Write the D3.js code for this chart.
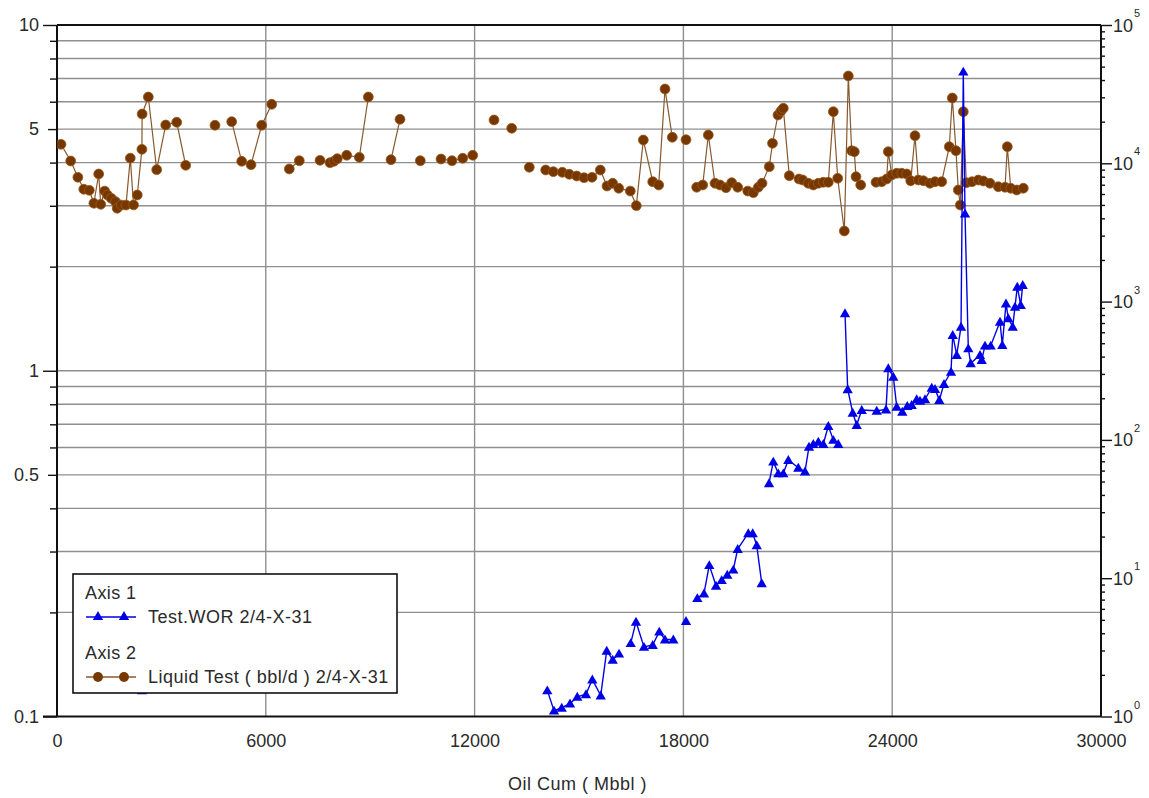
<!DOCTYPE html>
<html>
<head>
<meta charset="utf-8">
<script src="https://cdn.jsdelivr.net/npm/d3@7/dist/d3.min.js"></script>
<style>
  html, body { margin: 0; padding: 0; background: #ffffff; }
  svg { display: block; }
  text { font-family: "Liberation Sans", Arial, sans-serif; fill: #2a2a2a; }
</style>
</head>
<body>
<svg id="chart" width="1149" height="798"></svg>
<script>
// ---- Axis 1: Test.WOR (left log axis). null marks a break in the line.
const worCum = [2443, null,
  14089, 14282, 14503, 14742, 14951, 15201, 15383, 15624, 15796, 15968, 16150, null,
  16486, 16638, 16868, 17118, 17307, 17471, 17710, null,
  18075, null,
  18400, 18592, 18744, 18937, 19100, 19261, 19434, 19560, 19865, 19991, 20107, 20250, null,
  20460, 20583, 20727, 20871, 21015, 21302, 21494, 21609, 21733, 21877, 22020, 22164, 22308, 22451, null,
  22644, 22721, 22865, 22980, 23124, 23555, 23822, 23888, 24032, 24130, 24290, 24434, 24560, 24704,
  24799, 24943, 25135, 25230, 25354, 25489, 25690, 25739, 25854, 25978, 26043, 26092, 26187, 26256,
  26523, 26572, 26667, 26830, 27098, 27164, 27270, 27336, 27463, 27529, 27595, 27693, 27750];
const worValue = [0.119, null,
  0.119, 0.104, 0.106, 0.109, 0.114, 0.116, 0.128, 0.115, 0.155, 0.146, 0.152, null,
  0.163, 0.188, 0.159, 0.161, 0.176, 0.167, 0.167, null,
  0.189, null,
  0.220, 0.227, 0.274, 0.239, 0.248, 0.257, 0.266, 0.305, 0.339, 0.339, 0.313, 0.243, null,
  0.473, 0.546, 0.505, 0.505, 0.552, 0.524, 0.511, 0.603, 0.614, 0.623, 0.614, 0.692, 0.631, 0.614, null,
  1.466, 0.884, 0.756, 0.697, 0.770, 0.766, 0.773, 1.017, 0.961, 0.787, 0.761, 0.791, 0.796, 0.827,
  0.819, 0.827, 0.893, 0.886, 0.823, 0.916, 0.994, 1.269, 1.111, 1.341, 7.33, 2.85, 1.161, 1.051,
  1.111, 1.074, 1.182, 1.182, 1.386, 1.187, 1.566, 1.418, 1.341, 1.532, 1.750, 1.549, 1.770];

// ---- Axis 2: Liquid Test (bbl/d) (right log axis). null marks a break in the line.
const liqCum = [115, 394, 600, 770, 928, 1060, 1198, 1256, 1370, 1450, 1560, 1680, 1730, 1850, 1983,
  2106, 2200, 2307, 2440, 2446, 2624, 2865, 3124, 3440, 3698, null,
  4540, null,
  5020, 5307, 5575, 5882, 6170, null,
  6675, 6963, null,
  7558, 7845, 7960, 8055, 8325, 8687, 8946, null,
  9598, 9856, null,
  10440, null,
  11035, 11351, 11658, 11946, null,
  12558, null,
  13066, null,
  13572, null,
  14043, 14262, 14520, 14721, 14934, 15144, 15374, 15612, 15805, 15968, 16141, 16474, 16647, 16848,
  17118, 17290, 17471, 17681, null,
  18075, null,
  18382, 18555, 18716, 18908, 19052, 19224, 19388, 19560, 19848, 20009, 20152, 20259, 20468, 20560,
  20718, 20805, 20871, 21043, 21322, 21428, 21589, 21733, 21877, 22020, 22164, 22308, 22434, 22624,
  22739, 22836, 22911, 22960, 23095, null,
  23535, 23698, 23842, 23888, 23986, 24130, 24273, 24417, 24532, 24655, 24750, 24894, 25086, 25230,
  25422, 25641, 25727, 25833, 25899, 25957, 26043, 26130, 26293, 26475, 26619, 26810, 27049, 27242,
  27308, 27406, 27578, 27768];
const liqValue = [13720, 10390, 7920, 6490, 6380, 5140, 8370, 5050, 6300, 5900, 5580, 5280, 4730, 4990, 4990,
  10900, 5000, 5900, 12620, 22730, 30160, 8990, 18920, 19800, 9670, null,
  18830, null,
  19990, 10340, 9770, 18830, 26710, null,
  9100, 10440, null,
  10510, 10100, 10340, 10800, 11430, 11050, 30160, null,
  10620, 20810, null,
  10440, null,
  10740, 10440, 10870, 11430, null,
  20570, null,
  17910, null,
  9360, null,
  8945, 8700, 8610, 8330, 8090, 7870, 7920, 8945, 6850, 7170, 6600, 6300, 4940, 14740,
  7360, 6970, 34450, 15420, null,
  14810, null,
  6710, 6970, 16020, 7170, 6970, 6660, 7240, 6710, 6300, 6130, 6710, 7170, 9450, 13950,
  22350, 23890, 24990, 8130, 7700, 7570, 7170, 6970, 7170, 7290, 7290, 23610, 7790, 3240,
  42790, 12330, 12130, 8000, 6970, null,
  7290, 7360, 7700, 12130, 8230, 8470, 8470, 8370, 7480, 15830, 7570, 7480, 7170, 7360,
  7360, 13180, 29660, 12330, 6410, 4990, 23610, 7240, 7360, 7570, 7450, 7170, 6770, 6710,
  13180, 6600, 6410, 6600];

// ---- Tick labels
const xTicks = [0, 6000, 12000, 18000, 24000, 30000];
const leftTickLabels = [10, 5, 1, 0.5, 0.1];
const rightExponents = [0, 1, 2, 3, 4, 5];
const xTitle = "Oil Cum ( Mbbl )";
const legendItems = [
  { group: "Axis 1", name: "Test.WOR 2/4-X-31", kind: "wor" },
  { group: "Axis 2", name: "Liquid Test ( bbl/d ) 2/4-X-31", kind: "liq" }
];

const WOR_COLOR = "#0000e6";
const LIQ_COLOR = "#763800";
const LIQ_LINE = "#86582e";
const GRID = "#8f8f8f";

const svg = d3.select("#chart");
const plot = { left: 57, right: 1101, top: 25, bottom: 716.5 };

const x = d3.scaleLinear().domain([0, 30000]).range([plot.left, plot.right]);
const yL = d3.scaleLog().domain([0.1, 10]).range([plot.bottom, plot.top]);
const yR = d3.scaleLog().domain([1, 1e5]).range([plot.bottom, plot.top]);

// minor log positions on the left axis
const leftMinor = [];
[0.1, 1].forEach(d => { for (let k = 1; k <= 9; k++) leftMinor.push(+(d * k).toFixed(3)); });
leftMinor.push(10);

// ---- Grid
const grid = svg.append("g");
grid.selectAll("line.h").data(leftMinor.filter(v => v > 0.1 && v < 10)).join("line")
  .attr("x1", plot.left).attr("x2", plot.right)
  .attr("y1", d => yL(d)).attr("y2", d => yL(d))
  .attr("stroke", GRID).attr("stroke-width", 1.4);
grid.selectAll("line.v").data(xTicks.filter(v => v > 0 && v < 30000)).join("line")
  .attr("x1", d => x(d)).attr("x2", d => x(d))
  .attr("y1", plot.top).attr("y2", plot.bottom)
  .attr("stroke", GRID).attr("stroke-width", 1.4);

// ---- Left axis (Axis 1)
const leftAxis = d3.axisLeft(yL)
  .tickValues(leftMinor)
  .tickSize(0)
  .tickFormat(d => leftTickLabels.includes(d) ? String(d) : "");
const gL = svg.append("g").attr("transform", `translate(${plot.left},0)`).call(leftAxis);
gL.select(".domain").remove();
gL.selectAll(".tick line").remove();
gL.selectAll(".tick text").attr("x", -18).attr("font-size", 18).attr("fill", "#2a2a2a")
  .style("font-family", "'Liberation Sans', Arial, sans-serif");
gL.selectAll(".tick").append("line")
  .attr("x1", d => ([0.1, 1, 10].includes(d) ? -14 : (d === 5 || d === 0.5) ? -9 : -7))
  .attr("x2", 0).attr("stroke", "#111").attr("stroke-width", 1.4);

// ---- Right axis (Axis 2)
const rightMinor = [];
for (let e = 0; e < 5; e++) for (let k = 1; k <= 9; k++) rightMinor.push(k * Math.pow(10, e));
rightMinor.push(1e5);
const rightAxis = d3.axisRight(yR).tickValues(rightMinor).tickSize(0).tickFormat("");
const gR = svg.append("g").attr("transform", `translate(${plot.right},0)`).call(rightAxis);
gR.select(".domain").remove();
gR.selectAll(".tick line").remove();
gR.selectAll(".tick").append("line")
  .attr("x1", 0)
  .attr("x2", d => (Math.abs(Math.log10(d) - Math.round(Math.log10(d))) < 1e-9 ? 11 : 4))
  .attr("stroke", "#111").attr("stroke-width", 1.4);
const rLab = svg.append("g").selectAll("g").data(rightExponents).join("g")
  .attr("transform", d => `translate(${plot.right + 12},${yR(Math.pow(10, d))})`);
rLab.append("text").attr("y", 6.5).attr("font-size", 18).text("10");
rLab.append("text").attr("x", 21).attr("y", -8).attr("font-size", 11).text(d => d);

// ---- Bottom axis
const bottomAxis = d3.axisBottom(x).tickValues(xTicks).tickSize(0).tickFormat(d => String(d));
const gB = svg.append("g").attr("transform", `translate(0,${plot.bottom})`).call(bottomAxis);
gB.select(".domain").remove();
gB.selectAll(".tick text").attr("y", 18).attr("font-size", 18).attr("fill", "#2a2a2a")
  .style("font-family", "'Liberation Sans', Arial, sans-serif");

// ---- Frame
const frame = svg.append("g").attr("stroke", "#111").attr("stroke-width", 2).attr("fill", "none");
frame.append("line").attr("x1", plot.left).attr("x2", plot.right).attr("y1", plot.top).attr("y2", plot.top);
frame.append("line").attr("x1", plot.left - 14).attr("x2", plot.right).attr("y1", plot.bottom).attr("y2", plot.bottom);
frame.append("line").attr("x1", plot.left).attr("x2", plot.left).attr("y1", plot.top).attr("y2", plot.bottom);
frame.append("line").attr("x1", plot.right).attr("x2", plot.right).attr("y1", plot.top).attr("y2", plot.bottom);

svg.append("text").attr("x", 577.5).attr("y", 790).attr("text-anchor", "middle")
  .attr("font-size", 18).attr("letter-spacing", 0.5).text(xTitle);

// ---- Series
const liqPts = liqCum.map((c, i) => ({ x: c, y: liqValue[i] }));
const worPts = worCum.map((c, i) => ({ x: c, y: worValue[i] }));

svg.append("clipPath").attr("id", "plotclip").append("rect")
  .attr("x", plot.left).attr("y", plot.top - 8).attr("width", plot.right - plot.left).attr("height", plot.bottom - plot.top + 8);

const liqLine = d3.line().defined(d => d.y != null).x(d => x(d.x)).y(d => yR(d.y));
const worLine = d3.line().defined(d => d.y != null).x(d => x(d.x)).y(d => yL(d.y));

const series = svg.append("g").attr("clip-path", "url(#plotclip)");
series.append("path").datum(liqPts).attr("d", liqLine)
  .attr("fill", "none").attr("stroke", LIQ_LINE).attr("stroke-width", 1.2);
series.append("g").selectAll("path").data(liqPts.filter(d => d.y != null)).join("path")
  .attr("transform", d => `translate(${x(d.x)},${yR(d.y)})`)
  .attr("d", d3.symbol(d3.symbolCircle, 76))
  .attr("fill", LIQ_COLOR).attr("stroke", "#9a5a1c").attr("stroke-width", 0.8);

series.append("path").datum(worPts).attr("d", worLine)
  .attr("fill", "none").attr("stroke", WOR_COLOR).attr("stroke-width", 1.4);
series.append("g").selectAll("path").data(worPts.filter(d => d.y != null)).join("path")
  .attr("transform", d => `translate(${x(d.x)},${yL(d.y) + 1})`)
  .attr("d", d3.symbol(d3.symbolTriangle, 46))
  .attr("fill", WOR_COLOR);

// ---- Legend
const lg = svg.append("g").attr("transform", "translate(73,574)");
lg.append("rect").attr("width", 324).attr("height", 119)
  .attr("fill", "#ffffff").attr("stroke", "#111").attr("stroke-width", 1.6);
legendItems.forEach((it, i) => {
  const oy = i * 60;
  lg.append("text").attr("x", 12).attr("y", oy + 25).attr("font-size", 18)
    .attr("letter-spacing", 0.4).text(it.group);
  const ly = oy + 43;
  const col = it.kind === "wor" ? WOR_COLOR : LIQ_LINE;
  lg.append("line").attr("x1", 13).attr("x2", 63).attr("y1", ly).attr("y2", ly)
    .attr("stroke", col).attr("stroke-width", 1.4);
  [25, 51].forEach(mx => {
    lg.append("path").attr("transform", `translate(${mx},${ly})`)
      .attr("d", d3.symbol(it.kind === "wor" ? d3.symbolTriangle : d3.symbolCircle, it.kind === "wor" ? 46 : 76))
      .attr("fill", it.kind === "wor" ? WOR_COLOR : LIQ_COLOR);
  });
  lg.append("text").attr("x", 75).attr("y", ly + 6).attr("font-size", 18)
    .attr("letter-spacing", 0.5).text(it.name);
});
</script>
</body>
</html>
